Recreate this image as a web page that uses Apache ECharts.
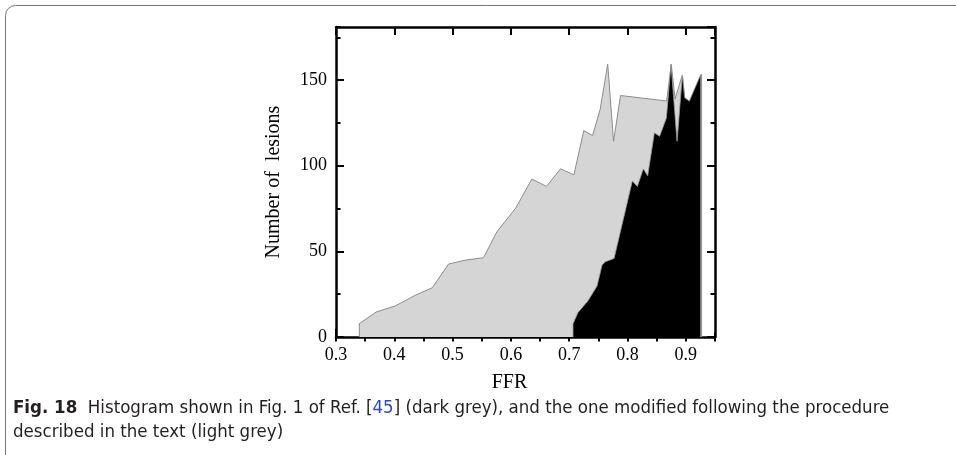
<!DOCTYPE html>
<html>
<head>
<meta charset="utf-8">
<script src="https://cdn.jsdelivr.net/npm/echarts@6/dist/echarts.min.js"></script>
<style>
  html, body { margin: 0; padding: 0; background: #fff; }
  #chart { width: 956px; height: 455px; }
</style>
</head>
<body>
<div id="chart"></div>
<script>
// modified histogram (light grey)
const lightX = [0.340, 0.340, 0.369, 0.402, 0.436, 0.465, 0.493, 0.522, 0.553, 0.576, 0.608, 0.636, 0.661, 0.685, 0.708,
  0.725, 0.740, 0.753, 0.766, 0.776, 0.788, 0.867, 0.875, 0.8815, 0.894, 0.898, 0.906, 0.927, 0.927];
const lightY = [0, 7.8, 14.6, 18.2, 24.4, 28.7, 42.6, 44.9, 46.3, 61.5, 75.2, 92.2, 87.9, 98.2, 94.7,
  120.5, 117.6, 132.8, 159.3, 114.2, 141.0, 137.8, 159.2, 139.0, 153.0, 139.7, 137.7, 153.3, 0];

// original histogram from Fig. 1 of Ref. [45] (dark grey)
const darkX = [0.7065, 0.7065, 0.7148, 0.7319, 0.7477, 0.7563, 0.762, 0.7769, 0.8082, 0.8168, 0.8271, 0.8345,
  0.846, 0.855, 0.8666, 0.8746, 0.8849, 0.894, 0.898, 0.906, 0.9255, 0.9255];
const darkY = [0, 7.8, 14.2, 21.0, 29.8, 42.0, 43.9, 45.9, 91.1, 87.9, 98.2, 94.1,
  119.2, 117.2, 127.9, 159.2, 114.2, 153.0, 139.7, 137.7, 153.3, 0];

const xMin = 0.3, xMax = 0.95;
const yMin = 0, yMax = 181;

const lightData = lightX.map((x, i) => [x, lightY[i]]);
const darkData = darkX.map((x, i) => [x, darkY[i]]);

const serif = 'Liberation Serif';
const capFont = 'Liberation Sans Narrow, DejaVu Sans Condensed, sans-serif';
const frame = { show: true, onZero: false, lineStyle: { color: '#000', width: 2.5 } };

function xAx(pos, interval, len, withLabels) {
  return {
    type: 'value', position: pos, min: xMin, max: xMax, interval: interval,
    axisLine: withLabels !== null ? frame : { show: false },
    axisTick: { show: true, inside: true, length: len, lineStyle: { color: '#000', width: 2 } },
    axisLabel: { show: !!withLabels, showMaxLabel: false, margin: 9, color: '#000',
      fontFamily: serif, fontSize: 18 },
    splitLine: { show: false }
  };
}
function yAx(pos, interval, len, withLabels) {
  return {
    type: 'value', position: pos, min: yMin, max: yMax, interval: interval,
    axisLine: withLabels !== null ? frame : { show: false },
    axisTick: { show: true, inside: true, length: len, lineStyle: { color: '#000', width: 2 } },
    axisLabel: { show: !!withLabels, showMaxLabel: false, margin: 9, color: '#000',
      fontFamily: serif, fontSize: 18 },
    splitLine: { show: false }
  };
}

// major + minor ticks on all four sides (box frame)
const xAxes = [xAx('bottom', 0.1, 8, true), xAx('bottom', 0.05, 4.5, null),
  xAx('top', 0.1, 8, false), xAx('top', 0.05, 4.5, null)];
xAxes[0].name = 'FFR';
xAxes[0].nameLocation = 'middle';
xAxes[0].nameGap = 36;
xAxes[0].nameTextStyle = { fontFamily: serif, fontSize: 20, color: '#000', padding: [0, 32, 0, 0] };

const yAxes = [yAx('left', 50, 8, true), yAx('left', 25, 4.5, null),
  yAx('right', 50, 8, false), yAx('right', 25, 4.5, null)];
yAxes[0].name = 'Number of  lesions';
yAxes[0].nameLocation = 'middle';
yAxes[0].nameGap = 52;
yAxes[0].nameTextStyle = { fontFamily: serif, fontSize: 20, color: '#000' };

const chart = echarts.init(document.getElementById('chart'), null, { renderer: 'canvas' });
chart.setOption({
  animation: false,
  backgroundColor: '#fff',
  grid: { left: 336, right: 241, top: 27, bottom: 118, containLabel: false },
  xAxis: xAxes,
  yAxis: yAxes,
  series: [
    {
      name: 'modified', type: 'line', data: lightData, symbol: 'none',
      xAxisIndex: 0, yAxisIndex: 0,
      lineStyle: { color: '#8c8c8c', width: 1 },
      areaStyle: { color: '#d4d5d4', opacity: 1 },
      z: 1
    },
    {
      name: 'original', type: 'line', data: darkData, symbol: 'none',
      xAxisIndex: 0, yAxisIndex: 0,
      lineStyle: { color: '#9a9a9a', width: 0.8 },
      areaStyle: { color: '#000', opacity: 1 },
      z: 2
    }
  ],
  graphic: [
    {
      type: 'rect', silent: true,
      shape: { x: 5.5, y: 5.5, width: 980, height: 480, r: [10, 0, 0, 0] },
      style: { fill: 'none', stroke: '#777', lineWidth: 1 }
    },
    {
      type: 'text', left: 13, top: 396,
      style: {
        text: '{b|Fig. 18}  Histogram shown in Fig. 1 of Ref. [{blue|45}] (dark grey), and the one modified following the procedure\ndescribed in the text (light grey)',
        fontFamily: capFont, fontSize: 18.5, lineHeight: 24, fill: '#231f20',
        rich: {
          b: { fontWeight: 'bold', fontFamily: capFont, fontSize: 18.5, fill: '#231f20' },
          blue: { fontFamily: capFont, fontSize: 18.5, fill: '#2e49c7' }
        }
      }
    }
  ]
});
</script>
</body>
</html>
